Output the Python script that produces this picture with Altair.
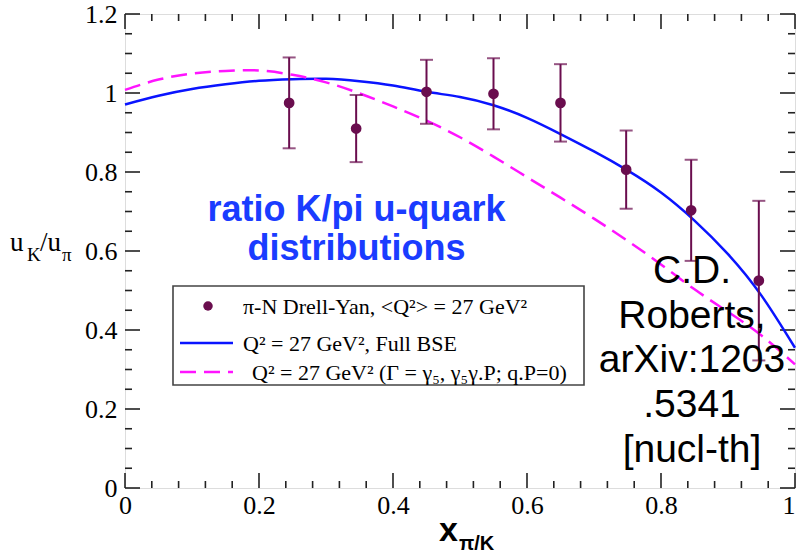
import altair as alt
import pandas as pd

# pi-N Drell-Yan measurement of u_K/u_pi
x_meas = [0.245, 0.345, 0.45, 0.55, 0.65, 0.748, 0.845, 0.946]
y_meas = [0.975, 0.910, 1.003, 0.998, 0.975, 0.806, 0.703, 0.525]
y_err = [0.115, 0.085, 0.081, 0.090, 0.098, 0.099, 0.128, 0.202]

# DSE predictions at Q^2 = 27 GeV^2
x_curve = [0.0, 0.05, 0.1, 0.15, 0.2, 0.25, 0.3, 0.35, 0.4, 0.45, 0.5,
           0.55, 0.6, 0.65, 0.7, 0.75, 0.8, 0.85, 0.9, 0.95, 1.0]
y_full_bse = [0.971, 0.993, 1.010, 1.022, 1.031, 1.035, 1.036, 1.030, 1.019,
              1.003, 0.990, 0.969, 0.937, 0.896, 0.852, 0.804, 0.748, 0.677,
              0.592, 0.487, 0.355]
y_simple = [1.008, 1.034, 1.049, 1.056, 1.057, 1.046, 1.027, 0.999, 0.966,
            0.930, 0.888, 0.839, 0.787, 0.735, 0.682, 0.626, 0.566, 0.503,
            0.446, 0.386, 0.313]

x_ticks_major = [0, 0.2, 0.4, 0.6, 0.8, 1.0]
x_ticks_minor = [round(i * 0.04, 2) for i in range(26) if i % 5]
y_ticks_major = [0, 0.2, 0.4, 0.6, 0.8, 1.0, 1.2]
y_ticks_minor = [round(i * 0.05, 2) for i in range(25) if i % 4]

W, H = 670, 474
DOT = "#6a0d4e"
FRAME = "#222222"
BLUE = "#0a14ff"
MAGENTA = "#ff14ff"
SERIF = "Liberation Serif"
SANS = "Liberation Sans"

meas = pd.DataFrame({"x": x_meas, "y": y_meas, "e": y_err})
meas["lo"] = meas["y"] - meas["e"]
meas["hi"] = meas["y"] + meas["e"]
curves = pd.DataFrame({"x": x_curve, "bse": y_full_bse, "simple": y_simple})

xs = alt.Scale(domain=[0, 1], nice=False, zero=False)
ys = alt.Scale(domain=[0, 1.2], nice=False, zero=False)
ax_x = alt.Axis(values=x_ticks_major, format="~g", ticks=False, domain=False,
                grid=False, title=None, labelFont=SERIF, labelFontSize=26,
                labelColor="black", labelPadding=4, labelFlush=False,
                labelAlign=alt.condition("datum.value == 1",
                                         alt.value("right"), alt.value("center")))
ax_y = alt.Axis(values=y_ticks_major, format="~g", ticks=False, domain=False,
                grid=False, title=None, labelFont=SERIF, labelFontSize=26,
                labelColor="black", labelPadding=8)


def X(field="x"):
    return alt.X(f"{field}:Q", scale=xs, axis=ax_x)


def Y(field):
    return alt.Y(f"{field}:Q", scale=ys, axis=ax_y)


blue = alt.Chart(curves).mark_line(color=BLUE, strokeWidth=2.5,
                                   interpolate="natural").encode(x=X(), y=Y("bse"))
magenta = alt.Chart(curves).mark_line(color=MAGENTA, strokeWidth=2.5,
                                      strokeDash=[16, 8],
                                      interpolate="natural").encode(x=X(), y=Y("simple"))

bars = alt.Chart(meas).mark_rule(color=DOT, strokeWidth=2).encode(
    x=X(), y=Y("lo"), y2="hi:Q")
cap_lo = alt.Chart(meas).mark_tick(color=DOT, orient="horizontal", size=13,
                                   thickness=2).encode(x=X(), y=Y("lo"))
cap_hi = alt.Chart(meas).mark_tick(color=DOT, orient="horizontal", size=13,
                                   thickness=2).encode(x=X(), y=Y("hi"))
dots = alt.Chart(meas).mark_circle(color=DOT, size=115, opacity=1).encode(
    x=X(), y=Y("y"))


# inward ticks on all four sides of the frame
def xticks(vals, length):
    d = pd.DataFrame({"x": vals})
    base = alt.Chart(d).mark_rule(color=FRAME, strokeWidth=1.6)
    return (base.encode(x=X(), y=alt.value(H), y2=alt.value(H - length)) +
            base.encode(x=X(), y=alt.value(0), y2=alt.value(length)))


def yticks(vals, length):
    d = pd.DataFrame({"v": vals})
    base = alt.Chart(d).mark_rule(color=FRAME, strokeWidth=1.6)
    return (base.encode(y=Y("v"), x=alt.value(0), x2=alt.value(length)) +
            base.encode(y=Y("v"), x=alt.value(W), x2=alt.value(W - length)))


one = pd.DataFrame({"a": [0]})


def label(text, x, y, size, font=SANS, weight="normal", color="black",
          align="left", line_height=None):
    kw = dict(text=text, font=font, fontSize=size, fontWeight=weight,
              color=color, align=align, baseline="alphabetic")
    if line_height is not None:
        kw.update(lineBreak="\n", lineHeight=line_height)
    return alt.Chart(one).mark_text(**kw).encode(x=alt.value(x), y=alt.value(y))


title = label("ratio K/pi u-quark\ndistributions", 231.5, 207, 36, weight="bold",
              color="#1a3cff", align="center", line_height=38.5)
cite = label("C.D.\nRoberts,\narXiv:1203\n.5341\n[nucl-th]", 567, 269, 39,
             align="center", line_height=44.7)

# axis titles with sub-scripts
ytitle = (label("u", -115, 237, 27, font=SERIF) +
          label("K", -98, 247, 19, font=SERIF) +
          label("/u", -85, 237, 27, font=SERIF) +
          label("π", -63, 247, 19, font=SERIF))
xtitle = (label("x", 314, 527, 34, weight="bold") +
          label("π/K", 334, 536, 20, weight="bold"))

# legend
legend_box = alt.Chart(one).mark_rect(fill="white", stroke="#444444",
                                      strokeWidth=1.6).encode(
    x=alt.value(48), x2=alt.value(459), y=alt.value(272), y2=alt.value(371))
leg_dot = alt.Chart(one).mark_circle(color=DOT, size=90, opacity=1).encode(
    x=alt.value(83), y=alt.value(292))
leg_blue = alt.Chart(one).mark_rule(color=BLUE, strokeWidth=2.5).encode(
    x=alt.value(55), x2=alt.value(108), y=alt.value(329))
leg_mag = alt.Chart(one).mark_rule(color=MAGENTA, strokeWidth=2.5,
                                   strokeDash=[16, 8]).encode(
    x=alt.value(55), x2=alt.value(108), y=alt.value(358))
leg_t1 = label("π-N Drell-Yan, <Q²> = 27 GeV²", 118, 300, 22, font=SERIF)
leg_t2 = label("Q² = 27 GeV², Full BSE", 118, 337, 22, font=SERIF)
leg_t3 = label("Q² = 27 GeV² (Γ = γ₅, γ₅γ.P;  q.P=0)", 127, 366, 22, font=SERIF)

chart = alt.layer(
    xticks(x_ticks_major, 15), xticks(x_ticks_minor, 7),
    yticks(y_ticks_major, 15), yticks(y_ticks_minor, 7),
    blue, magenta, bars, cap_lo, cap_hi, dots,
    title, legend_box, leg_dot, leg_blue, leg_mag, leg_t1, leg_t2, leg_t3,
    cite, ytitle, xtitle,
).properties(
    width=W, height=H, autosize=alt.AutoSizeParams(type="none"),
    padding={"left": 125, "top": 14, "right": 3, "bottom": 68},
).configure_view(stroke=FRAME, strokeWidth=2).configure(background="white")

chart.save("out.html", embed_options={"renderer": "svg", "actions": False})
